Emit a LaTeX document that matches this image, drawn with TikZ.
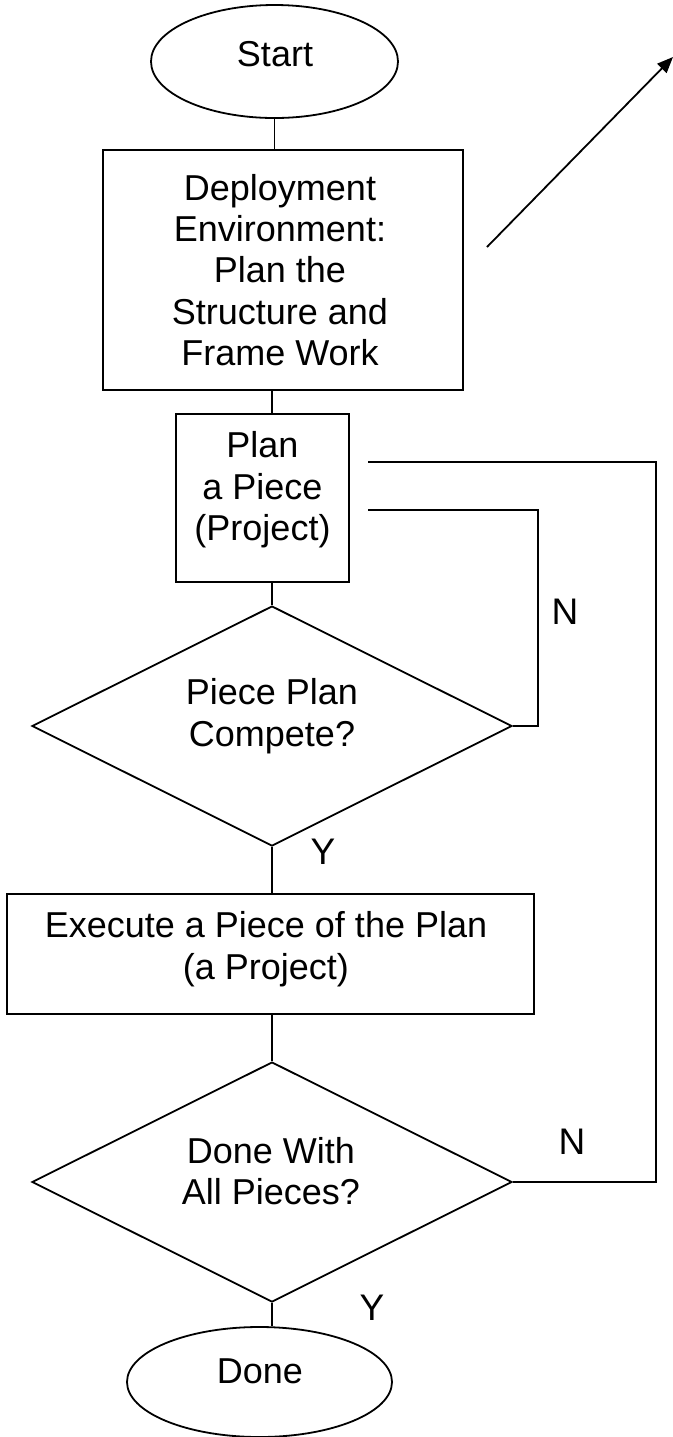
\documentclass[tikz,border=0pt]{standalone}
\usepackage{fontspec}
\setmainfont{Liberation Sans}
\usetikzlibrary{shapes.geometric,arrows.meta}
\begin{document}
\begin{tikzpicture}[x=0.5pt,y=-0.5pt,
  shapeline/.style={draw=black,line width=0.9pt,inner sep=0pt},
  procbox/.style={shapeline,rectangle},
  termbox/.style={shapeline,ellipse},
  decbox/.style={shapeline,diamond},
  txt/.style={align=center,inner sep=0pt,font=\fontsize{18}{20.7}\selectfont},
  lbl/.style={inner sep=0pt,font=\fontsize{18.5}{20}\selectfont},
  conn/.style={draw=black,line width=0.9pt}]
\useasboundingbox (0,0) rectangle (673,1437);
% shapes
\node[termbox,minimum width=123.5pt,minimum height=56.5pt] (start) at (274.5,61.5) {};
\node[procbox,minimum width=180pt,minimum height=120pt] (deploy) at (283,270) {};
\node[procbox,minimum width=86.5pt,minimum height=84pt] (plan) at (262.5,498) {};
\node[decbox,minimum width=240pt,minimum height=120pt] (dec1) at (272,726) {};
\node[procbox,minimum width=263.5pt,minimum height=60pt] (exec) at (270.5,954) {};
\node[decbox,minimum width=240pt,minimum height=120pt] (dec2) at (272,1182) {};
\node[termbox,minimum width=132.5pt,minimum height=55pt] (done) at (259.5,1382) {};
% texts
\node[txt] (startT) at (275,54) {Start};
\node[txt] (deployT) at (280,270) {Deployment\\Environment:\\Plan the\\Structure and\\Frame Work};
\node[txt] (planT) at (262.5,490) {Plan\\a Piece\\(Project)};
\node[txt] (dec1T) at (272,716) {Piece Plan\\Compete?};
\node[txt] (execT) at (266,949) {Execute a Piece of the Plan\\(a Project)};
\node[txt] (dec2T) at (271,1171) {Done With\\All Pieces?};
\node[txt] (doneT) at (260,1371) {Done};
% labels
\node[lbl] (n1) at (565,612) {N};
\node[lbl] (y1) at (323,852) {Y};
\node[lbl] (n2) at (572,1142) {N};
\node[lbl] (y2) at (372,1308) {Y};
% connectors
\draw[conn] (start.south) -- (start.south |- deploy.north);
\draw[conn] (dec1.north |- deploy.south) -- (dec1.north |- plan.north);
\draw[conn] (dec1.north |- plan.south) -- (dec1.north);
\draw[conn] (dec1.south) -- (dec1.south |- exec.north);
\draw[conn] (dec2.north |- exec.south) -- (dec2.north);
\draw[conn] (dec2.south) -- (dec2.south |- done.north);
\coordinate (l1) at (368,510);
\coordinate (l2) at (368,462);
\draw[conn] (dec1.east) -- ++(25,0) |- (l1);
\draw[conn] (dec2.east) -- ++(143,0) |- (l2);
\coordinate (a1) at (487,247);
\coordinate (a2) at (673,57);
\draw[conn,-{Triangle[length=8pt,width=6.5pt]}] (a1) -- (a2);
\end{tikzpicture}
\end{document}
